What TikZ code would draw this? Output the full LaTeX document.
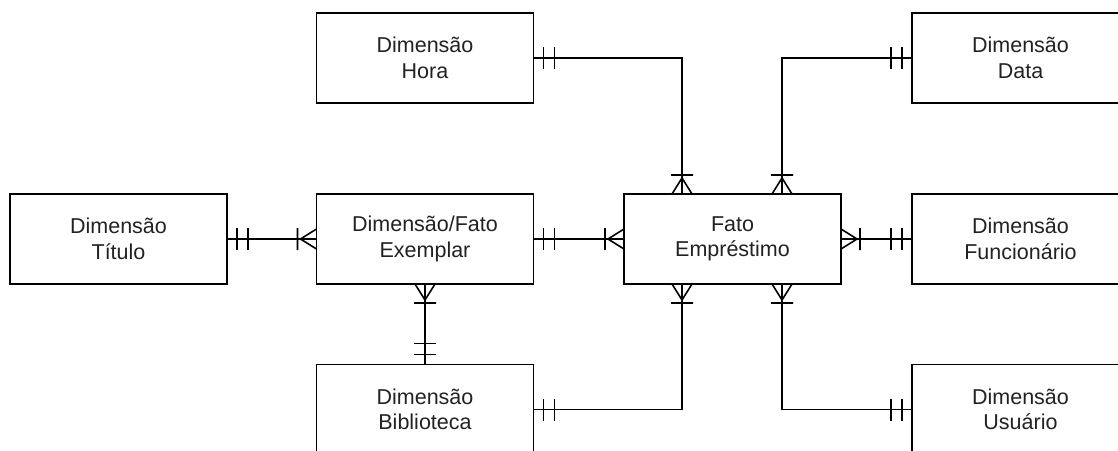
\documentclass[tikz,border=0pt]{standalone}
\usepackage{fontspec}
\setmainfont{Liberation Sans}
\usetikzlibrary{calc}
\definecolor{txt}{HTML}{222222}
\tikzset{
  entity/.style={draw, line width=1.6pt, minimum width=217pt, minimum height=90pt,
    inner sep=0pt, outer sep=0pt, align=center, text=txt,
    font=\fontsize{21.5}{25.5}\selectfont},
  conn/.style={line width=1.6pt},
  mandone/.pic={\draw[line width=1.6pt] (10,-11)--(10,11) (21,-11)--(21,11);},
  manymark/.pic={\draw[line width=1.6pt] (0,-10)--(16,0)--(0,10) (19,-11)--(19,11);}
}
\begin{document}
\begin{tikzpicture}[x=1pt,y=1pt]
\useasboundingbox (0,0) rectangle (1118,-450);
\clip (0,0) rectangle (1118,-450);
\node[entity] (hora) at (425,-58) {Dimensão\\Hora};
\node[entity] (data) at (1020.5,-58) {Dimensão\\Data};
\node[entity] (titulo) at (118.5,-239) {Dimensão\\Título};
\node[entity] (exemplar) at (425,-239) {Dimensão/Fato\\Exemplar};
\node[entity] (fato) at (732.5,-239) {Fato\\Empréstimo};
\node[entity] (func) at (1020.5,-239) {Dimensão\\Funcionário};
\node[entity] (bib) at (425,-409.5) {Dimensão\\Biblioteca};
\node[entity] (usu) at (1020.5,-409.5) {Dimensão\\Usuário};
% connectors
\draw[conn] (hora.east) -| ([xshift=-50.5pt]fato.north);
\draw[conn] (data.west) -| ([xshift=49.5pt]fato.north);
\draw[conn] (titulo.east) -- (exemplar.west);
\draw[conn] (exemplar.east) -- (fato.west);
\draw[conn] (fato.east) -- (func.west);
\draw[conn] (exemplar.south) -- (bib.north);
\draw[conn] ([xshift=-50.5pt]fato.south) |- (bib.east);
\draw[conn] ([xshift=49.5pt]fato.south) |- (usu.west);
% markers: one mandatory
\pic at (hora.east) {mandone};
\pic[rotate=180] at (data.west) {mandone};
\pic at (titulo.east) {mandone};
\pic at (exemplar.east) {mandone};
\pic[rotate=180] at (func.west) {mandone};
\pic[rotate=90] at (bib.north) {mandone};
\pic at (bib.east) {mandone};
\pic[rotate=180] at (usu.west) {mandone};
% markers: one or many
\pic[rotate=90] at ([xshift=-50.5pt]fato.north) {manymark};
\pic[rotate=90] at ([xshift=49.5pt]fato.north) {manymark};
\pic[rotate=180] at (exemplar.west) {manymark};
\pic[rotate=180] at (fato.west) {manymark};
\pic at (fato.east) {manymark};
\pic[rotate=-90] at (exemplar.south) {manymark};
\pic[rotate=-90] at ([xshift=-50.5pt]fato.south) {manymark};
\pic[rotate=-90] at ([xshift=49.5pt]fato.south) {manymark};
\end{tikzpicture}
\end{document}
